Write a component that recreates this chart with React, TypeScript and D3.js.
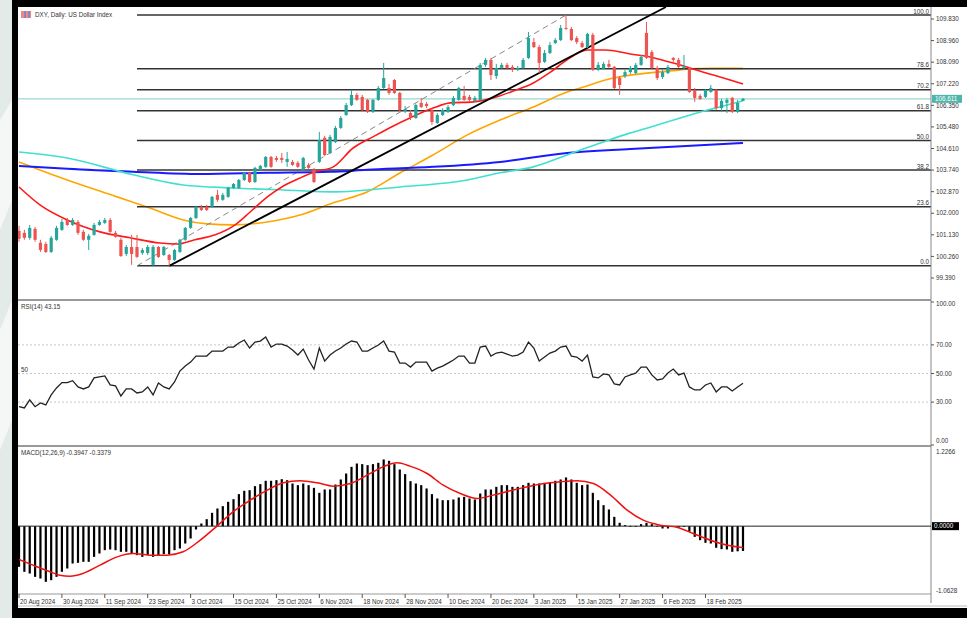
import React from "react";
import * as d3 from "d3";

const opens = [101.29,101.21,101.01,101.37,100.81,100.76,100.44,100.93,101.33,101.73,101.53,101.65,101.25,100.93,101.13,101.53,101.61,101.73,101.21,100.93,100.36,100.64,100.64,100.40,100.40,99.92,100.64,100.32,100.32,100.12,100.44,100.93,101.41,101.81,102.26,102.26,102.26,102.74,102.54,102.66,103.02,103.02,103.34,103.63,103.26,103.75,103.87,104.27,104.23,104.23,104.07,104.07,104.03,103.75,103.95,103.75,104.07,105.04,104.43,104.87,105.44,105.96,106.36,106.77,106.69,106.57,106.08,106.57,107.05,107.05,107.37,106.85,106.12,106.04,105.84,106.45,106.41,106.16,105.64,105.96,106.08,106.36,106.57,106.73,106.69,106.53,106.57,107.98,108.18,107.53,107.86,107.98,107.90,107.78,107.86,108.26,108.90,108.70,108.10,108.46,108.86,108.98,109.47,109.43,109.06,108.86,108.70,109.19,107.78,107.82,108.02,107.90,107.45,107.53,107.69,107.65,107.98,109.27,108.50,107.86,107.49,107.65,108.26,108.18,107.86,107.86,106.97,106.73,106.69,106.89,106.97,106.24,106.45,106.65,106.08,106.53];
const highs = [101.49,101.33,101.53,101.45,100.93,100.85,101.09,101.49,101.77,101.81,101.81,101.73,101.33,101.17,101.61,101.73,101.81,101.81,101.29,101.01,100.72,101.13,101.13,100.60,100.72,100.72,100.68,100.68,100.36,100.56,100.97,101.45,101.85,102.30,102.34,102.34,102.70,102.94,102.82,103.06,103.22,103.38,103.67,103.67,103.87,103.95,104.31,104.31,104.31,104.43,104.47,104.15,104.11,104.27,104.03,103.83,105.28,105.12,105.16,105.52,105.92,106.45,106.97,106.85,106.77,106.61,106.61,107.13,108.06,107.21,107.41,106.89,106.32,106.16,106.41,106.65,106.49,106.24,106.04,106.24,106.36,106.73,107.09,107.13,106.77,106.73,108.06,108.26,108.26,108.02,108.06,108.06,107.98,107.94,108.26,109.31,109.06,108.78,108.58,108.90,109.06,109.59,109.99,109.51,109.14,108.94,109.27,109.27,108.10,108.10,108.18,107.94,107.53,107.78,107.94,108.06,108.38,109.71,108.58,107.94,107.78,107.98,108.30,108.26,108.38,107.90,107.05,106.81,107.01,107.17,107.01,106.61,106.65,106.69,106.57,106.65];
const lows = [100.85,100.93,100.93,100.85,100.44,100.40,100.40,100.89,101.29,101.49,101.49,101.13,100.89,100.52,101.09,101.49,101.57,101.21,101.01,100.24,100.28,99.92,100.20,100.32,100.32,99.88,100.20,100.28,99.88,100.08,100.40,100.89,101.37,101.77,102.09,102.09,102.21,102.46,102.50,102.62,102.98,102.98,103.30,103.22,103.22,103.71,103.83,103.83,104.07,104.03,103.87,103.91,103.83,103.71,103.79,103.22,104.03,104.31,104.39,104.83,105.40,105.92,106.32,106.53,106.12,106.04,106.04,106.53,107.01,106.77,106.81,106.12,106.04,105.76,105.80,106.24,106.24,105.56,105.60,105.92,106.04,106.32,106.53,106.53,106.49,106.49,106.53,107.90,107.37,107.41,107.82,107.78,107.69,107.73,107.82,108.22,108.66,107.65,108.06,108.42,108.82,108.94,109.39,108.94,108.82,108.66,108.66,107.73,107.73,107.78,107.86,107.01,106.77,107.45,107.61,107.61,107.94,108.22,107.82,107.37,107.41,107.61,108.10,107.86,107.78,106.85,106.49,106.57,106.65,106.85,106.16,106.08,106.04,106.04,106.04,106.53];
const closes = [100.97,101.01,101.41,100.93,100.52,100.44,101.01,101.41,101.65,101.53,101.73,101.21,100.93,101.09,101.53,101.65,101.73,101.25,101.05,100.28,100.64,100.36,100.24,100.52,100.64,100.64,100.24,100.64,100.12,100.52,100.93,101.41,101.81,102.26,102.13,102.13,102.66,102.54,102.74,103.02,103.18,103.34,103.63,103.26,103.83,103.91,104.27,103.87,104.15,104.15,104.19,103.95,103.87,104.23,103.83,103.26,104.95,104.35,105.08,105.44,105.84,106.36,106.77,106.57,106.16,106.08,106.57,107.05,107.45,106.85,106.85,106.16,106.20,105.84,106.36,106.28,106.32,105.68,105.96,106.16,106.28,106.65,107.05,106.57,106.57,106.65,107.98,108.18,107.57,107.86,107.98,107.86,107.78,107.86,108.18,109.06,108.70,108.06,108.46,108.78,108.98,109.47,109.43,108.98,108.90,108.70,109.23,107.78,107.98,108.02,107.90,107.05,107.17,107.69,107.86,107.98,108.30,108.26,107.86,107.45,107.69,107.90,108.18,107.90,107.94,106.89,106.65,106.61,106.97,107.05,106.24,106.53,106.57,106.08,106.45,106.611];

const rsi = [26.8,25.9,31.5,26.8,29.4,28.0,35.0,39.9,43.6,43.6,45.0,40.6,39.2,40.6,46.9,47.6,48.3,42.0,41.3,34.3,39.2,39.2,36.4,37.1,40.6,35.0,43.4,40.6,39.2,44.1,51.7,55.2,58.0,62.2,62.2,62.2,65.7,65.7,65.7,68.5,68.5,71.3,73.4,67.8,72.0,72.7,75.5,68.5,70.6,70.6,69.2,66.4,62.9,67.1,59.4,53.1,67.8,58.7,62.9,65.7,67.8,70.6,72.7,72.0,65.7,65.7,67.8,69.9,72.7,65.7,65.0,57.3,57.3,54.5,58.0,58.0,58.0,51.7,53.8,55.2,57.3,59.4,62.2,62.2,57.3,57.3,68.5,69.2,62.2,64.3,65.0,63.6,62.2,62.9,65.0,72.0,67.8,58.7,61.5,64.3,65.7,68.5,69.2,62.2,61.5,58.7,62.9,47.6,46.9,49.7,49.0,42.7,42.0,47.6,49.0,50.3,54.5,54.5,49.0,45.5,46.2,50.3,53.1,49.0,50.3,40.6,38.5,38.5,42.0,43.4,37.1,40.6,40.6,37.8,40.6,43.15];

const macdHist = [-0.647,-0.726,-0.753,-0.806,-0.832,-0.885,-0.859,-0.806,-0.726,-0.673,-0.594,-0.583,-0.567,-0.567,-0.488,-0.435,-0.382,-0.371,-0.382,-0.408,-0.408,-0.435,-0.461,-0.488,-0.461,-0.488,-0.461,-0.445,-0.445,-0.382,-0.355,-0.276,-0.196,-0.053,0.042,0.111,0.212,0.281,0.318,0.387,0.429,0.509,0.562,0.572,0.636,0.668,0.721,0.721,0.731,0.747,0.731,0.678,0.652,0.678,0.652,0.609,0.530,0.583,0.583,0.662,0.742,0.837,0.943,0.996,0.986,0.970,0.986,1.007,1.060,1.039,0.986,0.901,0.827,0.715,0.678,0.652,0.599,0.509,0.440,0.413,0.413,0.424,0.456,0.466,0.440,0.424,0.519,0.583,0.583,0.625,0.652,0.652,0.625,0.625,0.652,0.689,0.678,0.678,0.678,0.694,0.721,0.742,0.774,0.742,0.689,0.652,0.662,0.530,0.413,0.334,0.265,0.148,0.053,0.016,0.005,0.003,0.032,0.053,0.032,0.005,-0.037,-0.037,-0.002,-0.021,-0.005,-0.090,-0.170,-0.223,-0.265,-0.276,-0.344,-0.366,-0.371,-0.408,-0.400,-0.3947];

const macdSignal: [number, number][] = [[0,-0.53],[2.6,-0.62],[5.8,-0.726],[7.6,-0.779],[9.5,-0.795],[11.9,-0.753],[15.1,-0.62],[18.3,-0.488],[21.3,-0.435],[24.4,-0.461],[27.6,-0.461],[30.6,-0.408],[33.8,-0.223],[36.9,0],[39.9,0.228],[43.1,0.413],[46.3,0.572],[49.3,0.689],[52.4,0.721],[55.6,0.689],[58.6,0.636],[61.8,0.678],[64.9,0.811],[67.9,0.943],[70.5,1.007],[72.9,0.954],[76.1,0.837],[79.1,0.652],[82.3,0.519],[85.4,0.44],[88.4,0.493],[91.6,0.562],[94.8,0.625],[97.8,0.678],[100.9,0.705],[104.1,0.721],[107.1,0.678],[110.3,0.493],[113.4,0.254],[116.4,0.095],[119.6,0.016],[122.8,-0.021],[125.7,-0.117],[128.9,-0.223],[132.1,-0.302],[135,-0.3379]];

const maRed: [number, number][] = [[0,103.06],[3.9,102.34],[9,101.73],[15.1,101.25],[20.7,101.01],[26.3,100.8],[29.5,100.76],[32.8,100.93],[36.6,101.13],[40.3,101.53],[43.1,102.05],[46.3,102.66],[49.3,103.1],[52.4,103.42],[55.2,103.67],[58.6,103.87],[62.3,104.63],[66,105.08],[69.8,105.52],[72.9,105.84],[77.2,106.24],[80.4,106.45],[84.7,106.49],[88.4,106.65],[92.2,106.93],[95.9,107.25],[99.1,107.69],[102.2,108.18],[106,108.58],[109.3,108.58],[114,108.42],[117.7,108.3],[120.5,108.14],[123.3,107.98],[126.1,107.78],[129.5,107.57],[132.6,107.37],[135,107.21]];
const maOrange: [number, number][] = [[0,104.07],[9,103.34],[18.3,102.66],[24.4,102.21],[30.6,101.73],[35.1,101.57],[39.9,101.53],[46.3,101.65],[52.4,101.93],[58.6,102.42],[64.9,102.86],[71.1,103.63],[77.2,104.35],[83.6,105.16],[89.7,105.76],[95.9,106.28],[102.2,106.89],[104.7,107.05],[110.8,107.45],[117.2,107.65],[123.3,107.78],[125.2,107.82],[129,107.84],[135,107.84]];
const maTeal: [number, number][] = [[0,104.47],[9,104.23],[21.3,103.55],[30.6,103.14],[39.9,103.02],[49.3,102.94],[58.6,102.86],[71.1,103.06],[83.6,103.34],[89.7,103.63],[95.9,103.87],[102.2,104.35],[108.4,104.83],[114,105.24],[117.2,105.44],[123.3,105.84],[128.4,106.16],[131.3,106.32],[135,106.53]];
const maBlue: [number, number][] = [[0,103.91],[9,103.79],[21.3,103.67],[33.8,103.58],[46.3,103.63],[58,103.67],[64.9,103.75],[77.2,103.87],[89.7,104.07],[102.2,104.43],[114,104.59],[135,104.83]];

const priceTicks = [109.83,108.96,108.09,107.22,106.35,105.48,104.61,103.74,102.87,102.0,101.13,100.26,99.39];
const fibLevels = [0,23.6,38.2,50,61.8,70.2,78.6,100];
const fibStartBar = 22, fibLow = 99.88, fibEndBar = 102, fibHigh = 109.99;
const trendPoints: [number, number][] = [[28,99.88],[100,107.99]];
const lastPrice = 106.611;
const rsiLevels = [70,50,30];
const rsiTicks = [100,70,50,30,0];
const macdTicks = [1.2266,-1.0628];
const xTickBars = [0,8,16,24,32,40,48,56,64,72,80,88,96,104,112,120,128];
const xTickLabels = ["20 Aug 2024","30 Aug 2024","11 Sep 2024","23 Sep 2024","3 Oct 2024","15 Oct 2024","25 Oct 2024","6 Nov 2024","18 Nov 2024","28 Nov 2024","10 Dec 2024","20 Dec 2024","3 Jan 2025","15 Jan 2025","27 Jan 2025","6 Feb 2025","18 Feb 2025"];

export default function App() {
  const W = 967, H = 618;
  const L = 18, AX = 931;
  const pTop = 7, pBot = 299, rTop = 301, rBot = 445, mTop = 447, mBot = 594;
  const x = d3.scaleLinear().domain([0, 135]).range([19, 743]);
  const yP = d3.scaleLinear().domain([99.39, 109.83]).range([278, 19]);
  const yR = d3.scaleLinear().domain([0, 100]).range([445, 302]);
  const yM = d3.scaleLinear().domain([-1.0628, 1.2266]).range([593, 449]);
  const bull = "#26a69a", bear = "#ef5350";
  const font = "'Liberation Sans', Arial, sans-serif";
  const fs = 6.3;

  const maLine = d3.line<[number, number]>().x(d => x(d[0])).y(d => yP(d[1])).curve(d3.curveMonotoneX);
  const rsiLine = d3.line<number>().x((_, i) => x(i)).y(d => yR(d));
  const sigLine = d3.line<[number, number]>().x(d => x(d[0])).y(d => yM(d[1])).curve(d3.curveMonotoneX);

  const [t0, t1] = trendPoints;
  const slope = (yP(t1[1]) - yP(t0[1])) / (x(t1[0]) - x(t0[0]));
  const tx0 = x(t0[0]), ty0 = yP(t0[1]);
  const txEnd = tx0 + (pTop - ty0) / slope;

  const fibY = (lv: number) => yP(fibLow + (lv / 100) * (fibHigh - fibLow));

  return (
    <svg width={W} height={H} style={{ position: "absolute", left: 0, top: 0, fontFamily: font }}>
      <defs>
        <clipPath id="pc"><rect x={L} y={pTop} width={AX - L} height={pBot - pTop} /></clipPath>
        <clipPath id="rc"><rect x={L} y={rTop} width={AX - L} height={rBot - rTop} /></clipPath>
        <clipPath id="mc"><rect x={L} y={mTop} width={AX - L} height={mBot - mTop} /></clipPath>
      </defs>
      <rect x={0} y={0} width={W} height={H} fill="#e3ebe8" />
      <path d="M0,120 L12,100 L12,200 L0,230 Z" fill="#f4f7f6" />
      <path d="M0,330 L12,300 L12,420 L0,450 Z" fill="#f4f7f6" />
      <rect x={12} y={0} width={W - 12} height={H} fill="#000" />
      <rect x={L} y={pTop} width={W - L} height={608 - pTop} fill="#fff" />

      {/* title */}
      <rect x={21} y={11} width={10} height={7} fill="#e88" />
      <rect x={24} y={11} width={2} height={7} fill="#88b" />
      <rect x={28} y={11} width={2} height={7} fill="#88b" />
      <text x={35} y={17} fontSize={fs} fill="#333">DXY, Daily:  US Dollar Index</text>

      {/* price pane */}
      <g clipPath="url(#pc)">
        <line x1={L} x2={AX} y1={yP(lastPrice)} y2={yP(lastPrice)} stroke="#9ad9d2" strokeWidth={1.2} />
        <path d={maLine(maOrange) || ""} fill="none" stroke="#ffa500" strokeWidth={1.6} />
        {fibLevels.map(lv => (
          <line key={lv} x1={x(fibStartBar)} x2={AX} y1={fibY(lv)} y2={fibY(lv)} stroke="#333" strokeWidth={1.5} />
        ))}
        <line x1={x(fibStartBar)} y1={yP(fibLow)} x2={x(fibEndBar)} y2={yP(fibHigh)} stroke="#888" strokeWidth={1} strokeDasharray="6,4" />
        <path d={maLine(maBlue) || ""} fill="none" stroke="#1a1aff" strokeWidth={2} />
        <path d={maLine(maTeal) || ""} fill="none" stroke="#40e0d0" strokeWidth={1.6} />
        <path d={maLine(maRed) || ""} fill="none" stroke="#ff1a1a" strokeWidth={1.6} />
        <line x1={tx0} y1={ty0} x2={txEnd} y2={pTop} stroke="#000" strokeWidth={1.8} />
        {closes.map((c, i) => {
          const o = opens[i];
          const col = c >= o ? bull : bear;
          const top = yP(Math.max(o, c)), bot = yP(Math.min(o, c));
          return (
            <g key={i}>
              <line x1={x(i)} x2={x(i)} y1={yP(highs[i])} y2={yP(lows[i])} stroke={col} strokeWidth={1} />
              <rect x={x(i) - 1.6} y={top} width={3.2} height={Math.max(1, bot - top)} fill={col} />
            </g>
          );
        })}
      </g>
      {fibLevels.map(lv => (
        <text key={lv} x={AX - 2} y={fibY(lv) - 1.5} fontSize={fs} fill="#333" textAnchor="end">{lv.toFixed(1)}</text>
      ))}

      {/* separators */}
      <line x1={L} x2={AX} y1={300} y2={300} stroke="#999" strokeWidth={2} />
      <line x1={L} x2={AX} y1={446} y2={446} stroke="#999" strokeWidth={2} />
      <line x1={L} x2={AX} y1={mBot} y2={mBot} stroke="#999" strokeWidth={1} />
      <line x1={AX} x2={AX} y1={pTop} y2={603} stroke="#888" strokeWidth={1} />
      <line x1={L} x2={W} y1={606} y2={606} stroke="#bbb" strokeWidth={1} />

      {/* price axis */}
      {priceTicks.map(t => (
        <g key={t}>
          <line x1={AX} x2={AX + 3} y1={yP(t)} y2={yP(t)} stroke="#555" />
          <text x={AX + 5} y={yP(t) + 2.2} fontSize={fs} fill="#333">{t.toFixed(3)}</text>
        </g>
      ))}
      <rect x={AX + 1} y={yP(lastPrice) - 4} width={30} height={8} fill="#4db6ac" />
      <text x={AX + 4} y={yP(lastPrice) + 2.3} fontSize={fs} fill="#fff">{lastPrice.toFixed(3)}</text>

      {/* RSI pane */}
      <text x={21} y={309} fontSize={fs} fill="#333">RSI(14) 43.15</text>
      {rsiLevels.map(l => (
        <line key={l} x1={L} x2={AX} y1={yR(l)} y2={yR(l)} stroke="#c8c8c8" strokeWidth={1} strokeDasharray="2,2" />
      ))}
      <text x={21} y={yR(50) - 2} fontSize={fs} fill="#333">50</text>
      <g clipPath="url(#rc)">
        <path d={rsiLine(rsi) || ""} fill="none" stroke="#222" strokeWidth={1.3} />
      </g>
      {rsiTicks.map(t => (
        <g key={t}>
          <line x1={AX} x2={AX + 3} y1={yR(t)} y2={yR(t)} stroke="#555" />
          <text x={AX + 5} y={Math.min(Math.max(yR(t) + 2.2, 306), 443)} fontSize={fs} fill="#333">{t.toFixed(2)}</text>
        </g>
      ))}

      {/* MACD pane */}
      <text x={21} y={455} fontSize={fs} fill="#333">MACD(12,26,9) -0.3947 -0.3379</text>
      <g clipPath="url(#mc)">
        {macdHist.map((v, i) => (
          <rect key={i} x={x(i) - 1.1} y={Math.min(yM(0), yM(v))} width={2.2} height={Math.max(0.8, Math.abs(yM(v) - yM(0)))} fill="#000" />
        ))}
        <line x1={L} x2={AX} y1={yM(0)} y2={yM(0)} stroke="#222" strokeWidth={1} />
        <path d={sigLine(macdSignal) || ""} fill="none" stroke="#f01010" strokeWidth={1.5} />
      </g>
      <text x={AX + 5} y={454} fontSize={fs} fill="#333">{macdTicks[0].toFixed(4)}</text>
      <text x={AX + 5} y={593} fontSize={fs} fill="#333">{macdTicks[1].toFixed(4)}</text>
      <rect x={AX + 1} y={yM(0) - 4} width={27} height={8} fill="#000" />
      <text x={AX + 3} y={yM(0) + 2.3} fontSize={fs} fill="#fff">{(0).toFixed(4)}</text>

      {/* x axis */}
      {xTickBars.map((b, k) => (
        <g key={b}>
          <line x1={x(b)} x2={x(b)} y1={mBot} y2={mBot + 4} stroke="#555" />
          <text x={x(b) + 1} y={604} fontSize={fs} fill="#333">{xTickLabels[k]}</text>
        </g>
      ))}
    </svg>
  );
}
